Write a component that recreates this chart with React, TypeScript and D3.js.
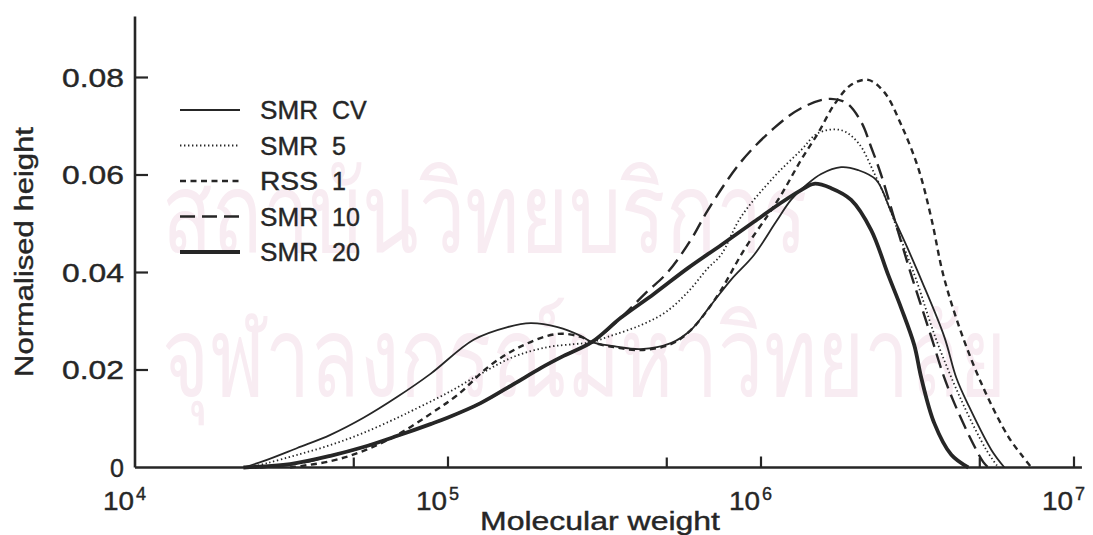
import React from 'react';
import * as d3 from 'd3';

const W = 1093;
const H = 535;

// Series names (legend order)
const seriesNames = ['SMR CV', 'SMR 5', 'RSS 1', 'SMR 10', 'SMR 20'];

// [molecular weight, normalised height]
const smrCV: [number, number][] = [
  [22200, 0], [25700, 0.0013], [33000, 0.004], [42100, 0.0067], [53700, 0.0102],
  [68900, 0.0145], [87900, 0.0192], [120700, 0.0262], [155000, 0.0288],
  [183700, 0.0296], [224000, 0.0288], [265500, 0.027], [287900, 0.0257], [338700, 0.0249],
  [413000, 0.0243], [515200, 0.0255], [597000, 0.0282], [691800, 0.0333], [801700, 0.0385],
  [949700, 0.0436], [1117000, 0.0504], [1247000, 0.0549], [1393000, 0.0579], [1556000, 0.0602],
  [1803000, 0.0616], [2044000, 0.061], [2333000, 0.059], [2606000, 0.0524], [2911000, 0.0456],
  [3251000, 0.0385], [3852000, 0.0268], [4207000, 0.0184], [4597000, 0.0128], [5445000, 0.0036],
  [5994000, 0],
];

const smr5: [number, number][] = [
  [23300, 0], [26450, 0.0009], [33000, 0.0026], [42100, 0.0046], [53700, 0.0071],
  [68900, 0.0102], [77600, 0.0118], [99600, 0.0153], [127100, 0.0192], [162000, 0.0227],
  [208200, 0.0247], [252100, 0.0253], [287900, 0.0257], [323900, 0.0268], [413000, 0.0292],
  [496600, 0.0319], [584000, 0.036], [676700, 0.0409], [744700, 0.0436], [863000, 0.0514],
  [1100000, 0.0596], [1343000, 0.0651], [1522000, 0.0686], [1803000, 0.0692], [2044000, 0.0666],
  [2299000, 0.0604], [2512000, 0.0549], [2805000, 0.0467], [3133000, 0.0385], [3631000, 0.0262],
  [4365000, 0.0138], [5248000, 0.0036], [5733000, 0],
];

const rss1: [number, number][] = [
  [31300, 0], [42100, 0.0013], [53700, 0.0034], [68900, 0.0067], [87900, 0.011],
  [107300, 0.0149], [136800, 0.021], [174400, 0.0251], [224000, 0.0274], [265500, 0.0268],
  [287900, 0.0257], [338700, 0.0247], [413000, 0.0241], [515200, 0.0253], [597000, 0.0282],
  [728500, 0.0354], [882300, 0.0446], [1053000, 0.0518], [1159000, 0.0559], [1343000, 0.0631],
  [1522000, 0.0686], [1712000, 0.0744], [1941000, 0.0785], [2200000, 0.0795], [2476000, 0.077],
  [2805000, 0.0703], [3180000, 0.0614], [3499000, 0.0512], [3823000, 0.0395], [4365000, 0.0276],
  [5171000, 0.0159], [6172000, 0.0063], [6792000, 0.0026], [7311000, 0],
];

const smr10: [number, number][] = [
  [25100, 0], [33700, 0.0009], [42100, 0.0024], [53700, 0.0042], [68900, 0.0065],
  [87900, 0.0089], [99600, 0.0102], [127100, 0.0132], [162000, 0.0171], [197700, 0.0204],
  [234200, 0.0229], [287900, 0.0257], [356500, 0.0307], [428500, 0.0358], [504200, 0.0401],
  [597000, 0.0467], [676700, 0.0528], [863000, 0.0627], [1100000, 0.0696], [1343000, 0.0737],
  [1639000, 0.0756], [1871000, 0.0748], [2089000, 0.0709], [2249000, 0.0657], [2421000, 0.06],
  [2704000, 0.0497], [3020000, 0.0395], [3499000, 0.0268], [3823000, 0.019], [4146000, 0.0132],
  [4699000, 0.0056], [5132000, 0.0011], [5325000, 0],
];

const smr20: [number, number][] = [
  [22200, 0], [31300, 0.0007], [42100, 0.0024], [53700, 0.0042], [68900, 0.0065],
  [87900, 0.0089], [99600, 0.0102], [127100, 0.0132], [162000, 0.0171], [197700, 0.0204],
  [234200, 0.0229], [287900, 0.0257], [356500, 0.0307], [454600, 0.0356], [584000, 0.0409],
  [744700, 0.0456], [949700, 0.0504], [1159000, 0.0543], [1343000, 0.0569], [1477000, 0.0582],
  [1675000, 0.0573], [1941000, 0.0549], [2249000, 0.0487], [2549000, 0.0395], [2805000, 0.0327],
  [3088000, 0.0251], [3251000, 0.0184], [3577000, 0.0091], [4055000, 0.0026], [4597000, 0],
];

const seriesData = [smrCV, smr5, rss1, smr10, smr20];

// Axis ticks
const yTicks = [0, 0.02, 0.04, 0.06, 0.08];
const xMajorTicks = [1e4, 1e5, 1e6, 1e7];
const xMajorExponents = ['4', '5', '6', '7'];
const xMinorTicks = [5e4, 5e5, 5e6];

const xLabel = 'Molecular weight';
const yLabel = 'Normalised height';

const watermark1 = 'สถาบันวิทยบริการ';
const watermark2 = 'จุฬาลงกรณ์มหาวิทยาลัย';

// Styles
const ink = '#262626';
const seriesStyles = [
  { width: 1.8, dash: undefined as string | undefined },
  { width: 1.8, dash: '1.4 2.6' },
  { width: 2.4, dash: '6 4.5' },
  { width: 2.4, dash: '15 7' },
  { width: 3.8, dash: undefined as string | undefined },
];

const FONT = '"Liberation Sans", Arial, Helvetica, sans-serif';

export default function App() {
  const x = d3.scaleLog().domain([1e4, 1e7]).range([135, 1074]);
  const y = d3.scaleLinear().domain([0, 0.08]).range([467.5, 77.5]);

  const line = d3
    .line<[number, number]>()
    .x((d) => x(d[0]))
    .y((d) => Math.min(y(d[1]), y(0)))
    .curve(d3.curveCatmullRom.alpha(0.5));

  const x0 = x(1e4);
  const y0 = y(0);
  const yTop = y(0.0925);
  const xEnd = x(1.06e7);

  const legendX = 180;
  const legendY = 110;
  const legendStep = 35.5;

  return (
    <svg width={W} height={H} style={{ display: 'block', position: 'absolute', left: 0, top: 0, background: '#fff' }}>
      <rect x={0} y={0} width={W} height={H} fill="#fff" />
      {/* faint watermark */}
      <g fill="#f8ecf2" fontFamily='"Noto Sans", "DejaVu Sans", sans-serif'>
        <text x={162} y={252} fontSize={112} textLength={645} lengthAdjust="spacingAndGlyphs">{watermark1}</text>
        <text x={162} y={396} fontSize={112} textLength={845} lengthAdjust="spacingAndGlyphs">{watermark2}</text>
      </g>

      {/* curves */}
      <g fill="none" stroke={ink} strokeLinejoin="round">
        {seriesData.map((d, i) => (
          <path
            key={seriesNames[i]}
            d={line(d) || ''}
            strokeWidth={seriesStyles[i].width}
            strokeDasharray={seriesStyles[i].dash}
          />
        ))}
      </g>

      {/* axes */}
      <g stroke={ink} strokeWidth={2.6} fill="none">
        <line x1={x0} y1={y0} x2={x0} y2={yTop} />
        <line x1={x0} y1={y0} x2={xEnd} y2={y0} />
        {yTicks.filter((t) => t > 0).map((t) => (
          <line key={t} x1={x0} x2={x0 + 13} y1={y(t)} y2={y(t)} strokeWidth={2.2} />
        ))}
        {xMajorTicks.filter((t) => t > 1e4).map((t) => (
          <line key={t} x1={x(t)} x2={x(t)} y1={y0} y2={y0 - 11} strokeWidth={2.2} />
        ))}
        {xMinorTicks.map((t) => (
          <line key={t} x1={x(t)} x2={x(t)} y1={y0} y2={y0 - 10} strokeWidth={2.2} />
        ))}
      </g>

      {/* y tick labels */}
      <g fill={ink} stroke={ink} strokeWidth={0.4} fontFamily={FONT} fontSize={25}>
        {yTicks.map((t) => {
          const label = t === 0 ? '0' : t.toFixed(2);
          return (
            <text
              key={t}
              x={124}
              y={y(t) + 9}
              textAnchor="end"
              textLength={label.length > 1 ? 62 : undefined}
              lengthAdjust="spacingAndGlyphs"
            >
              {label}
            </text>
          );
        })}
      </g>

      {/* x tick labels */}
      <g fill={ink} stroke={ink} strokeWidth={0.4} fontFamily={FONT}>
        {xMajorTicks.map((t, i) => (
          <g key={t}>
            <text x={x(t) - 1} y={510} fontSize={26} textAnchor="end" textLength={31} lengthAdjust="spacingAndGlyphs">
              10
            </text>
            <text x={x(t) + 1} y={500} fontSize={18}>
              {xMajorExponents[i]}
            </text>
          </g>
        ))}
      </g>

      {/* axis titles */}
      <text x={480} y={530} fill={ink} stroke={ink} strokeWidth={0.4} fontFamily={FONT} fontSize={25} textLength={240} lengthAdjust="spacingAndGlyphs">
        {xLabel}
      </text>
      <text
        transform={`translate(33, ${377}) rotate(-90)`}
        fill={ink}
        stroke={ink}
        strokeWidth={0.4}
        fontFamily={FONT}
        fontSize={25}
        textLength={250}
        lengthAdjust="spacingAndGlyphs"
      >
        {yLabel}
      </text>

      {/* legend */}
      <g fontFamily={FONT} fontSize={25} fill={ink}>
        {seriesNames.map((name, i) => {
          const ly = legendY + i * legendStep;
          const [w1, w2] = name.split(' ');
          return (
            <g key={name}>
              <line
                x1={legendX}
                x2={legendX + 60}
                y1={ly}
                y2={ly}
                stroke={ink}
                strokeWidth={seriesStyles[i].width}
                strokeDasharray={seriesStyles[i].dash}
              />
              <text x={260} y={ly + 9} stroke={ink} strokeWidth={0.4} textLength={58} lengthAdjust="spacingAndGlyphs">
                {w1}
              </text>
              <text x={332} y={ly + 9} stroke={ink} strokeWidth={0.4}>{w2}</text>
            </g>
          );
        })}
      </g>
    </svg>
  );
}
